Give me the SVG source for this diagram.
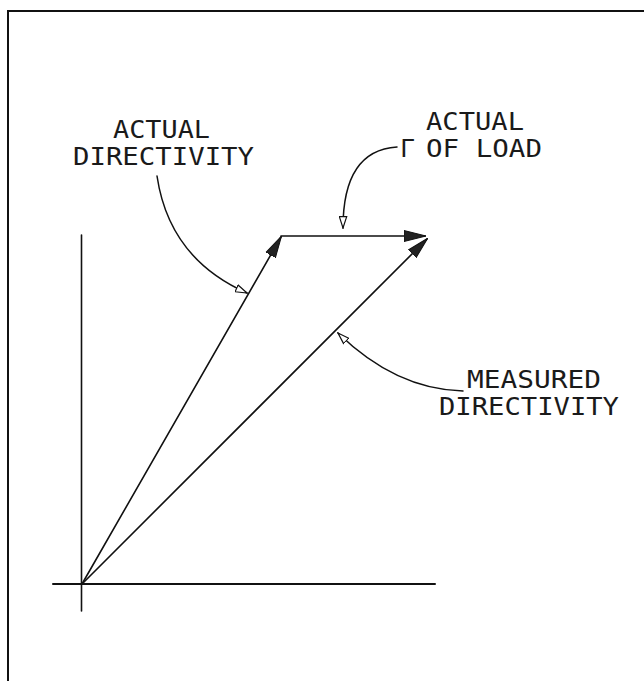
<svg xmlns="http://www.w3.org/2000/svg" width="644" height="681" viewBox="0 0 644 681">
  <style>
    .lbl { font-family: "DejaVu Sans Mono", "Liberation Mono", monospace; font-size: 25px; fill: #1a1a1a; }
    .ln { stroke: #111; fill: none; stroke-linecap: round; }
    .vec { stroke-width: 1.6; }
    .lead { stroke-width: 1.5; }
  </style>
  <defs>
    <marker id="solid" viewBox="0 0 22 14" markerUnits="userSpaceOnUse" markerWidth="22" markerHeight="14" refX="21" refY="7" orient="auto">
      <path d="M0,1.5 L22,7 L0,12.5 z" fill="#222" stroke="#111" stroke-width="1"/>
    </marker>
    <marker id="open" viewBox="0 0 13 9" markerUnits="userSpaceOnUse" markerWidth="13" markerHeight="9" refX="12" refY="4.5" orient="auto">
      <path d="M0.6,0.8 L12,4.5 L0.6,8.2 z" fill="#fff" stroke="#111" stroke-width="1.2"/>
    </marker>
  </defs>
  <rect width="644" height="681" fill="#fff"/>
  <g id="frame">
    <path class="ln" d="M8,681 L8,11 L644,11" stroke-width="2"/>
  </g>
  <g id="axes">
    <line class="ln" x1="81.5" y1="235" x2="81.5" y2="611" stroke-width="1.6"/>
    <line class="ln" x1="53" y1="584" x2="435" y2="584" stroke-width="2"/>
  </g>
  <g id="connectors">
    <line id="actual-directivity-vector" class="ln vec" x1="82" y1="584" x2="281" y2="237" marker-end="url(#solid)"/>
    <line id="gamma-vector" class="ln vec" x1="281" y1="236" x2="425" y2="236" marker-end="url(#solid)"/>
    <line id="measured-vector" class="ln vec" x1="82" y1="584" x2="427" y2="239" marker-end="url(#solid)"/>
    <path id="lead-actual-directivity" class="ln lead" d="M157,176 C165,230 195,270 247,293" marker-end="url(#open)"/>
    <path id="lead-gamma" class="ln lead" d="M397,147 C365,149 343,170 343,228" marker-end="url(#open)"/>
    <path id="lead-measured" class="ln lead" d="M463,391 C420,390 378,372 338,333" marker-end="url(#open)"/>
  </g>
  <g id="label-actual-directivity">
    <text class="lbl" x="113" y="138" textLength="97" lengthAdjust="spacingAndGlyphs">ACTUAL</text>
    <text class="lbl" x="73" y="165" textLength="181" lengthAdjust="spacingAndGlyphs">DIRECTIVITY</text>
  </g>
  <g id="label-actual-gamma">
    <text class="lbl" x="426" y="130" textLength="98" lengthAdjust="spacingAndGlyphs">ACTUAL</text>
    <text class="lbl" y="157"><tspan x="400">Γ</tspan><tspan x="426" textLength="116" lengthAdjust="spacingAndGlyphs">OF LOAD</tspan></text>
  </g>
  <g id="label-measured-directivity">
    <text class="lbl" x="467" y="388" textLength="134" lengthAdjust="spacingAndGlyphs">MEASURED</text>
    <text class="lbl" x="439" y="415" textLength="180" lengthAdjust="spacingAndGlyphs">DIRECTIVITY</text>
  </g>
</svg>
